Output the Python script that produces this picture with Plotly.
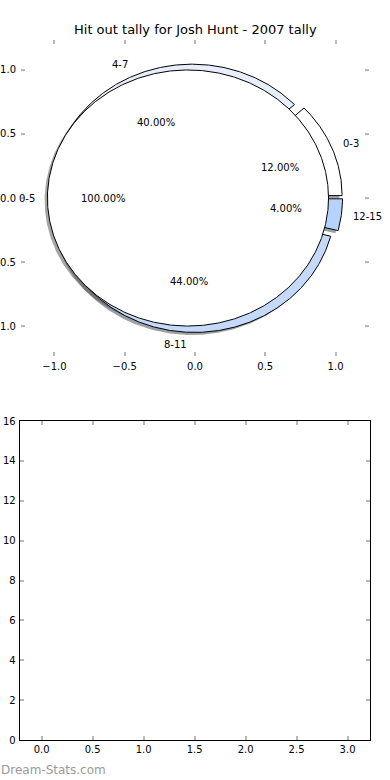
import numpy as np
import plotly.graph_objects as go

# ---------------- data ----------------
title_text = "Hit out tally for Josh Hunt - 2007 tally"
inner_labels = ["0-5"]
inner_values = [25]
inner_colors = ["#ffffff"]
outer_labels = ["0-3", "4-7", "8-11", "12-15"]
outer_values = [3, 10, 11, 1]
outer_colors = ["#ffffff", "#e8eefb", "#c5d9fb", "#b6d3fe"]
explode = 0.05
top_ticks = [-1.0, -0.5, 0.0, 0.5, 1.0]
bottom_xticks = [0.0, 0.5, 1.0, 1.5, 2.0, 2.5, 3.0]
bottom_yticks = [0, 2, 4, 6, 8, 10, 12, 14, 16]
watermark = "Dream-Stats.com"

FONT = "DejaVu Sans"
W, H = 390, 780


def pie_parts(values, expl):
    total = float(sum(values))
    t1 = 0.0
    parts = []
    for v in values:
        frac = v / total
        t2 = t1 + frac * 360.0
        mid = np.radians((t1 + t2) / 2.0)
        parts.append(dict(t1=t1, t2=t2, mid=mid, frac=frac,
                          cx=expl * np.cos(mid), cy=expl * np.sin(mid)))
        t1 = t2
    return parts


def wedge_xy(p, dx=0.0, dy=0.0, r=1.0):
    n = max(int(abs(p["t2"] - p["t1"]) * 2), 4)
    t = np.radians(np.linspace(p["t1"], p["t2"], n))
    cx, cy = p["cx"] + dx, p["cy"] + dy
    xs = cx + r * np.cos(t)
    ys = cy + r * np.sin(t)
    if p["frac"] < 0.9999:
        xs = np.concatenate([[cx], xs, [cx]])
        ys = np.concatenate([[cy], ys, [cy]])
    return xs, ys


def hex_rgb(h):
    h = h.lstrip("#")
    return tuple(int(h[i:i + 2], 16) for i in (0, 2, 4))


def shadow_color(h):
    r, g, b = hex_rgb(h)
    return f"rgba({int(r*0.3)},{int(g*0.3)},{int(b*0.3)},0.5)"


outer = pie_parts(outer_values, explode)
inner = pie_parts(inner_values, explode)

fig = go.Figure()

# shadows (drawn below all wedges)
for parts, cols in ((outer, outer_colors), (inner, inner_colors)):
    for p, c in zip(parts, cols):
        xs, ys = wedge_xy(p, -0.02, -0.02)
        fig.add_trace(go.Scatter(x=xs, y=ys, mode="lines", fill="toself",
                                 fillcolor=shadow_color(c), line=dict(width=0),
                                 hoverinfo="skip", showlegend=False,
                                 xaxis="x", yaxis="y"))

# wedges
for parts, cols in ((outer, outer_colors), (inner, inner_colors)):
    for p, c in zip(parts, cols):
        xs, ys = wedge_xy(p)
        fig.add_trace(go.Scatter(x=xs, y=ys, mode="lines", fill="toself",
                                 fillcolor=c, line=dict(color="black", width=1),
                                 hoverinfo="skip", showlegend=False,
                                 xaxis="x", yaxis="y"))

# bottom empty axes placeholder trace
fig.add_trace(go.Scatter(x=[], y=[], xaxis="x2", yaxis="y2", showlegend=False))

annotations = []
for parts, labels in ((outer, outer_labels), (inner, inner_labels)):
    for p, lab in zip(parts, labels):
        lx = p["cx"] + 1.1 * np.cos(p["mid"])
        ly = p["cy"] + 1.1 * np.sin(p["mid"])
        right_side = lx > 0
        annotations.append(dict(x=lx, y=ly, xref="x", yref="y", text=lab,
                                showarrow=False, xanchor="left" if right_side else "right",
                                xshift=-4 if right_side else 4,
                                yanchor="middle", font=dict(size=10, color="black", family=FONT)))
        px = p["cx"] + 0.6 * np.cos(p["mid"])
        py = p["cy"] + 0.6 * np.sin(p["mid"])
        annotations.append(dict(x=px, y=py, xref="x", yref="y", text=f"{p['frac']*100:.2f}%",
                                showarrow=False, xanchor="center", yanchor="middle",
                                font=dict(size=10, color="black", family=FONT)))

annotations.append(dict(x=0.5, y=1 - 30 / H, xref="paper", yref="paper", text=title_text,
                        showarrow=False, xanchor="center", yanchor="middle",
                        font=dict(size=13, color="black", family=FONT)))
annotations.append(dict(x=0.0, y=1 - 770 / H, xref="paper", yref="paper", text=watermark,
                        showarrow=False, xanchor="left", yanchor="middle", xshift=-1,
                        font=dict(size=12, color="#9a9a9a", family=FONT)))


def ax_common():
    return dict(ticks="inside", ticklen=4, tickwidth=1.5, tickcolor="#b8b8b8",
                showgrid=False, zeroline=False, automargin=False,
                tickfont=dict(size=10, color="black", family=FONT))


fig.update_layout(
    width=W, height=H,
    margin=dict(l=0, r=0, t=0, b=0, pad=0),
    paper_bgcolor="white", plot_bgcolor="white",
    showlegend=False,
    annotations=annotations,
    xaxis=dict(domain=[21 / W, 369 / W], range=[-1.238, 1.238], tickvals=top_ticks,
               tickformat=".1f", showline=False, mirror="ticks", anchor="y",
               ticklabelstandoff=3, **ax_common()),
    yaxis=dict(domain=[1 - 356 / H, 1 - 40 / H], range=[-1.234, 1.234], tickvals=top_ticks,
               tickformat=".1f", showline=False, mirror="ticks", anchor="x",
               ticklabelstandoff=4, **ax_common()),
    xaxis2=dict(domain=[19.7 / W, 370 / W], range=[-0.215, 3.22], tickvals=bottom_xticks,
                tickformat=".1f", showline=True, linecolor="black", linewidth=1,
                mirror="ticks", anchor="y2", **ax_common()),
    yaxis2=dict(domain=[1 - 740 / H, 1 - 421 / H], range=[0, 16], tickvals=bottom_yticks,
                showline=True, linecolor="black", linewidth=1, ticklabelstandoff=1,
                mirror="ticks", anchor="x2", **ax_common()),
)

fig.write_html("out.html", config={"displayModeBar": False},
               post_script="document.body.style.margin='0';document.body.style.padding='0';")
